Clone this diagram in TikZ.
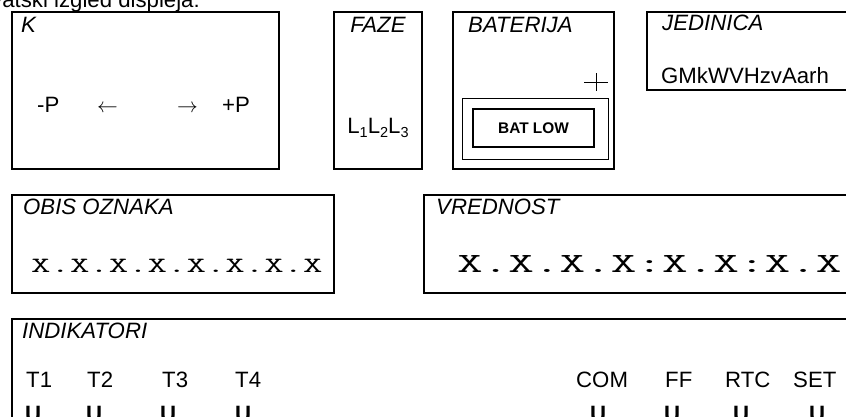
\documentclass[tikz,border=0pt]{standalone}
\usepackage{fontspec}
\setmainfont{Liberation Sans}
\begin{document}
\begin{tikzpicture}[x=1pt,y=-1pt,
  box/.style={line width=2pt},
  thinbox/.style={line width=1pt},
  lbl/.style={inner sep=0pt, anchor=base west, font=\fontsize{22.2}{24}\selectfont\itshape},
  txt/.style={inner sep=0pt, anchor=base west, font=\fontsize{22.2}{24}\selectfont},
  arr/.style={inner sep=0pt, anchor=base west, font=\fontsize{20}{24}\selectfont},
  mono/.style={inner sep=0pt, anchor=base west},
]
\useasboundingbox (0,0) rectangle (846,416);
\clip (0,0) rectangle (846,416);
\newcommand\sbs[1]{\raisebox{-0.18em}{\fontsize{14.5}{14}\selectfont #1}}
% title (cut off at the top)
\node[txt, anchor=base east] (title) at (200,7) {hrvatski izgled displeja:};
% K
\draw[box] (12,12) rectangle (279,169);
\node[lbl] (kl) at (21,32) {K};
\node[txt] (mp) at (37,112) {-P};
\node[arr] (la) at (97,112) {$\leftarrow$};
\node[arr] (ra) at (177,112) {$\rightarrow$};
\node[txt] (pp) at (222,112) {+P};
% FAZE
\draw[box] (334,12) rectangle (422,169);
\node[lbl, anchor=base] (fl) at (378,32) {FAZE};
\node[txt, anchor=base] (ll) at (378,133) {L\sbs{1}L\sbs{2}L\sbs{3}};
% BATERIJA
\draw[box] (453,12) rectangle (614,169);
\node[lbl] (bl) at (468,32) {BATERIJA};
\draw[line width=1pt] (584,82) -- (608,82) (596,73) -- (596,91);
\draw[thinbox] (462,98) rectangle (608,159);
\draw[line width=1.5pt] (473,109) rectangle (594,147);
\node[inner sep=0pt, font=\fontsize{15.4}{17}\selectfont\bfseries] (bat) at (533.5,128) {BAT LOW};
% JEDINICA
\draw[box] (647,12) rectangle (860,90);
\node[lbl] (jl) at (662,30) {JEDINICA};
\node[txt] (jv) at (661,83) {GMkWVHzvAarh};
% OBIS
\draw[box] (12,195) rectangle (334,293);
\node[lbl] (ol) at (23,214) {OBIS OZNAKA};
\node[mono] (ov) at (31,272) {\scalebox{1.73}[1]{\ttfamily\fontsize{21.8}{24}\selectfont X.X.X.X.X.X.X.X}};
% VREDNOST
\draw[box] (424,195) rectangle (860,293);
\node[lbl] (vl) at (436,214) {VREDNOST};
\node[mono] (vv) at (457,272) {\scalebox{1.79}[1]{\ttfamily\fontsize{27.8}{30}\selectfont X.X.X.X:X.X:X.X}};
% INDIKATORI
\draw[box] (12,430) -- (12,319) -- (860,319);
\node[lbl] (il) at (22,338) {INDIKATORI};
\node[txt] (t1) at (26,387) {T1};
\node[txt] (t2) at (87,387) {T2};
\node[txt] (t3) at (162,387) {T3};
\node[txt] (t4) at (235,387) {T4};
\node[txt] (com) at (576,387) {COM};
\node[txt] (ff) at (665,387) {FF};
\node[txt] (rtc) at (725,387) {RTC};
\node[txt] (set) at (793,387) {SET};
\foreach \n/\x in {u1/25,u2/86,u3/160,u4/235,u5/590,u6/664,u7/733,u8/809}
  \node[txt, font=\fontsize{22.2}{24}\selectfont\bfseries] (\n) at (\x,421) {U};
\end{tikzpicture}
\end{document}
